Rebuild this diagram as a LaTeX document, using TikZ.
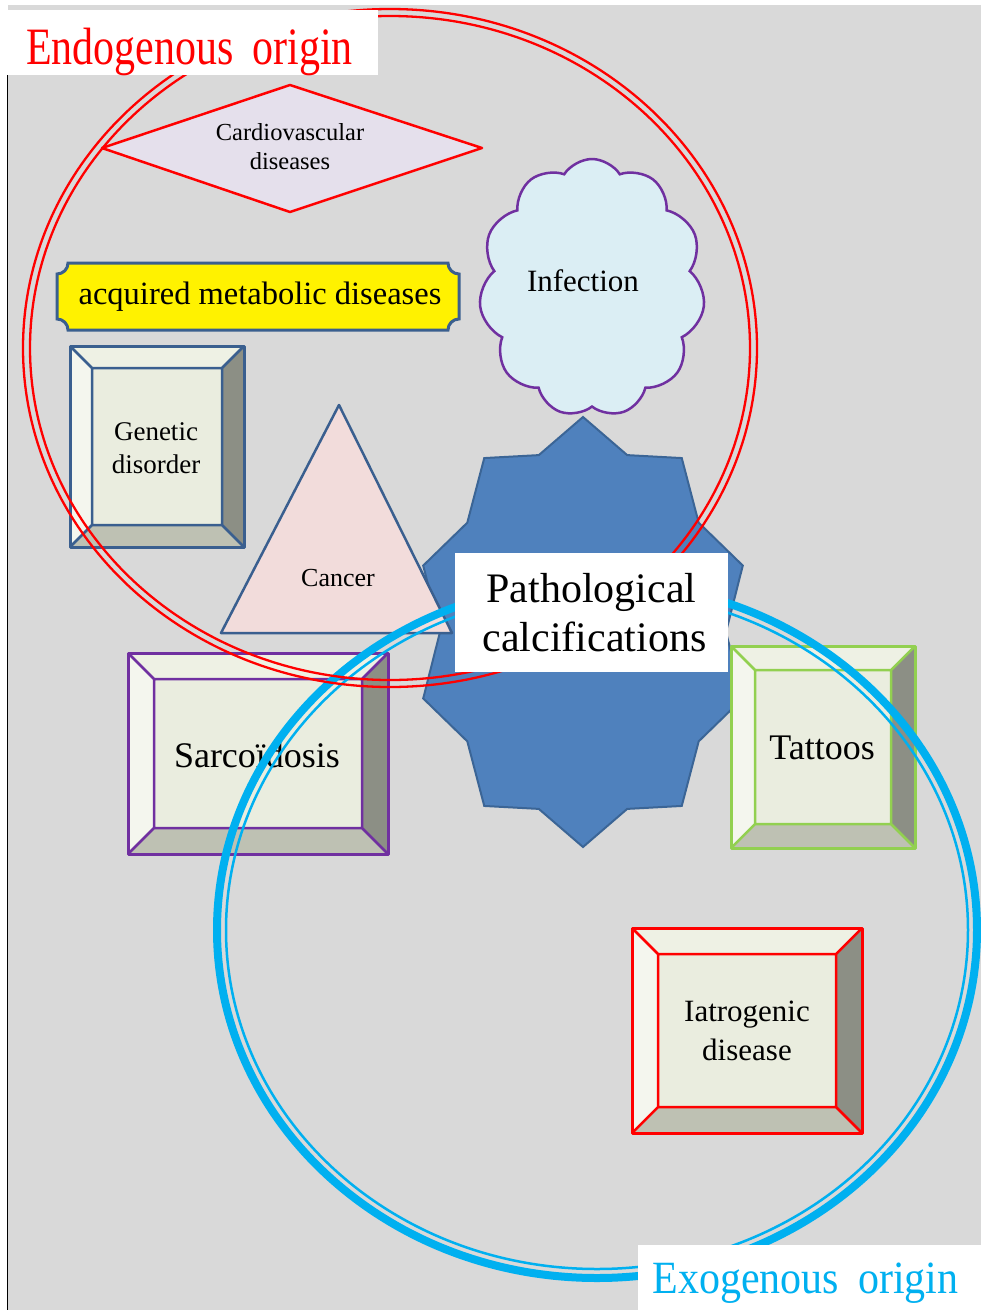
\documentclass[tikz,border=0pt]{standalone}
\usepackage{fontspec}
\setmainfont{Liberation Serif}
\usetikzlibrary{shapes.symbols}
\definecolor{bg}{HTML}{D9D9D9}
\definecolor{navy}{HTML}{3A5F8F}
\definecolor{starfill}{HTML}{4F81BD}
\definecolor{starline}{HTML}{3B6596}
\definecolor{lav}{HTML}{E5E0EC}
\definecolor{pinkf}{HTML}{F2DCDB}
\definecolor{cloudf}{HTML}{DBEEF4}
\definecolor{purp}{HTML}{7030A0}
\definecolor{cyanb}{HTML}{00B0F0}
\definecolor{tgreen}{HTML}{92D050}
\definecolor{redc}{HTML}{FF0000}
\definecolor{bvtop}{HTML}{EEF1E4}
\definecolor{bvleft}{HTML}{F4F6EE}
\definecolor{bvin}{HTML}{EAEDDF}
\definecolor{bvbot}{HTML}{BEC1B3}
\definecolor{bvright}{HTML}{8C8F85}
\newcommand{\bevbox}[6]{%
  \fill[bvtop] (#1,#2) -- (#3,#2) -- (#3-#5,#2+#5) -- (#1+#5,#2+#5) -- cycle;
  \fill[bvleft] (#1,#2) -- (#1+#5,#2+#5) -- (#1+#5,#4-#5) -- (#1,#4) -- cycle;
  \fill[bvright] (#3,#2) -- (#3,#4) -- (#3-#5,#4-#5) -- (#3-#5,#2+#5) -- cycle;
  \fill[bvbot] (#1,#4) -- (#1+#5,#4-#5) -- (#3-#5,#4-#5) -- (#3,#4) -- cycle;
  \fill[bvin] (#1+#5,#2+#5) rectangle (#3-#5,#4-#5);
  \draw[#6, line width=3pt, line join=round] (#1,#2) rectangle (#3,#4);
  \draw[#6, line width=2.5pt, line join=round] (#1+#5,#2+#5) rectangle (#3-#5,#4-#5)
    (#1,#2) -- (#1+#5,#2+#5) (#3,#2) -- (#3-#5,#2+#5)
    (#1,#4) -- (#1+#5,#4-#5) (#3,#4) -- (#3-#5,#4-#5);
}
\tikzset{
  lbl/.style={inner sep=0pt, align=center, text=black},
  outline/.style={line width=2.5pt, line join=round},
  redring/.style={draw=redc, line width=2.3pt},
}
\begin{document}
\begin{tikzpicture}[x=1pt, y=-1pt]
\useasboundingbox (0,0) rectangle (981,1310);
\fill[white] (0,0) rectangle (981,1310);
\fill[bg] (8,5) rectangle (981,1310);
\draw[black, line width=1.5pt] (7.5,75) -- (7.5,1310);

% central star
\filldraw[fill=starfill, draw=starline, line width=2pt, line join=miter]
  plot[samples at={0,...,19}] ({583 + ifthenelse(iseven(\x),168,143)*cos(90+18*\x)},
                               {632 - ifthenelse(iseven(\x),215,186)*sin(90+18*\x)}) -- cycle;

% infection cloud
\node[cloud, cloud puffs=11, cloud puff arc=115, aspect=0.88, draw=purp, fill=cloudf,
      line width=2.5pt, minimum width=226pt, minimum height=258pt, inner sep=0pt] (infcloud) at (592,288) {};
\node[lbl, font=\fontsize{31}{36}\selectfont] (inf) at (583,281) {Infection};

% cardiovascular diamond
\coordinate (dl) at (102,148); \coordinate (dr) at (482,148);
\coordinate (dt) at (290,85);  \coordinate (db) at (290,212);
\filldraw[fill=lav, draw=redc, outline] (dl) -- (dt) -- (dr) -- (db) -- cycle;
\node[lbl, font=\fontsize{24.5}{29}\selectfont] (cvd) at (290,147) {Cardiovascular\\diseases};

% acquired metabolic diseases plaque
\filldraw[fill=yellow, draw=navy, line width=3pt]
  (68,263) -- (448,263) arc[start angle=180, end angle=90, radius=11]
  -- (459,319) arc[start angle=270, end angle=180, radius=11]
  -- (68,330) arc[start angle=360, end angle=270, radius=11]
  -- (57,274) arc[start angle=90, end angle=0, radius=11] -- cycle;
\node[lbl, font=\fontsize{32.5}{36}\selectfont] (amd) at (260,297) {acquired metabolic diseases};

% genetic disorder
\bevbox{70}{346}{244}{547}{22}{navy}
\node[lbl, font=\fontsize{27}{33}\selectfont] (gen) at (156,448) {Genetic\\disorder};

% cancer triangle
\coordinate (ta) at (339,405); \coordinate (tl) at (221,633); \coordinate (tr) at (452,633);
\filldraw[fill=pinkf, draw=navy, outline] (ta) -- (tr) -- (tl) -- cycle;
\node[lbl, font=\fontsize{26}{30}\selectfont] (can) at (338,578) {Cancer};

% sarcoidosis
\bevbox{128}{653}{388}{854}{26}{purp}
\node[lbl, font=\fontsize{36}{40}\selectfont] (sar) at (257,755) {Sarcoïdosis};

% tattoos
\bevbox{731}{646}{915}{848}{24}{tgreen}
\node[lbl, font=\fontsize{36}{40}\selectfont] (tat) at (822,748) {Tattoos};

% iatrogenic
\bevbox{632}{928}{862}{1133}{26}{redc}
\node[lbl, font=\fontsize{31}{39}\selectfont] (iat) at (747,1031) {Iatrogenic\\disease};

% exogenous ring (blue)
\draw[cyanb, line width=8pt] (597,930) ellipse [x radius=380, y radius=348];
\draw[cyanb, line width=2.5pt] (597,930) ellipse [x radius=371, y radius=339];

% endogenous ring (red)
\draw[redring] (390,348) ellipse [x radius=367, y radius=339];
\draw[redring] (390,348) ellipse [x radius=360, y radius=332];

% central label
\node[fill=white, minimum width=273pt, minimum height=119pt, inner sep=0pt, align=center,
      font=\fontsize{42}{49}\selectfont] (pc) at (591.5,612.5) {Pathological\\\hspace*{6pt}calcifications};

% origin labels
\node[fill=white, minimum width=371pt, minimum height=65pt, inner sep=0pt, text=redc,
      font=\fontsize{42}{46}\selectfont] (endo) at (192.5,42.5)
      {\hspace*{-6pt}\raisebox{-22pt}[0pt][0pt]{\scalebox{1}[1.25]{Endogenous\hspace{0.45em}origin}}};
\node[fill=white, minimum width=343pt, minimum height=65pt, inner sep=0pt, text=cyanb,
      font=\fontsize{42}{46}\selectfont] (exo) at (809.5,1277.5)
      {\hspace*{-8pt}\raisebox{-16pt}[0pt][0pt]{\scalebox{1}[1.1]{Exogenous\hspace{0.45em}origin}}};
\end{tikzpicture}
\end{document}
